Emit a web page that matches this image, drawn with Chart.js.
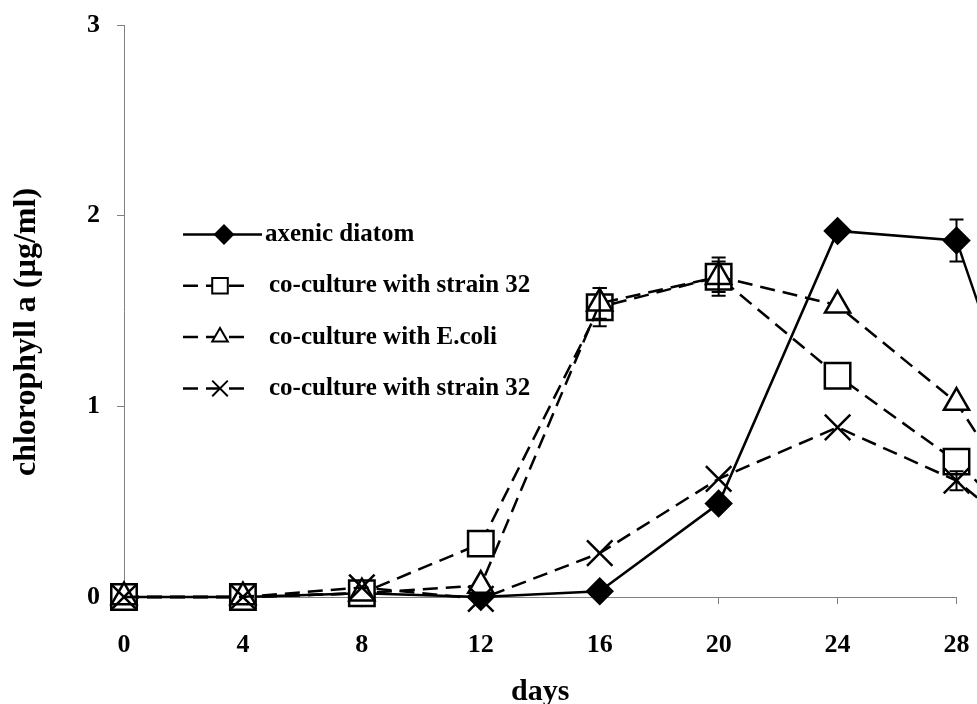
<!DOCTYPE html>
<html>
<head>
<meta charset="utf-8">
<script src="https://cdn.jsdelivr.net/npm/chart.js@4.4.0/dist/chart.umd.min.js"></script>
<style>
  html, body { margin: 0; padding: 0; background: #fff; }
  #wrap { width: 977px; height: 704px; overflow: hidden; }
</style>
</head>
<body>
<div id="wrap"><canvas id="chart" width="977" height="704"></canvas></div>
<script>
// sampling days; the last one lies past the end of the axis
const days = [0, 4, 8, 12, 16, 20, 24, 28, 32];
const xTicks = [0, 4, 8, 12, 16, 20, 24, 28];
const yTicks = [0, 1, 2, 3];

const seriesNames = ['axenic diatom', 'co-culture with strain 32', 'co-culture with E.coli', 'co-culture with strain 32'];

// chlorophyll a, µg/ml
const axenic    = [0, 0, 0.02, 0, 0.03, 0.49, 1.92, 1.87, 0.05];
const strain32  = [0, 0, 0.02, 0.28, 1.52, 1.68, 1.16, 0.71, 0.1];
const ecoli     = [0, 0, 0.02, 0.06, 1.54, 1.68, 1.53, 1.02, 0.05];
const strain32b = [0, 0, 0.05, -0.01, 0.23, 0.62, 0.89, 0.61, 0.1];

// error bars (+/-), 0 means none
const errAxenic    = [0, 0, 0, 0, 0, 0, 0, 0.11, 0];
const errStrain32  = [0, 0, 0, 0, 0.1, 0.1, 0, 0, 0];
const errEcoli     = [0, 0, 0, 0, 0.08, 0.08, 0, 0, 0];
const errStrain32b = [0, 0, 0, 0, 0, 0, 0, 0.05, 0];

const serif = '"Liberation Serif", "Times New Roman", serif';
const axisGray = '#808080';

function pts(vals) {
    return vals.map((v, i) => ({ x: days[i], y: v }));
}

function makeSet(label, vals, errs, style, radius, fill, dashed, order) {
    return {
        label: label,
        data: pts(vals),
        errors: errs,
        borderColor: '#000',
        borderWidth: 2.5,
        borderDash: dashed ? [15, 8] : [],
        pointStyle: style,
        pointRadius: radius,
        pointBackgroundColor: fill,
        pointBorderColor: '#000',
        pointBorderWidth: 2.5,
        tension: 0,
        clip: false,
        order: order
    };
}

// vertical error bars with caps
const errorBars = {
    id: 'errorBars',
    afterDatasetsDraw(chart) {
        const ctx = chart.ctx;
        const xs = chart.scales.x, ys = chart.scales.y;
        ctx.save();
        ctx.strokeStyle = '#000';
        ctx.lineWidth = 2;
        chart.data.datasets.forEach(ds => {
            ds.data.forEach((p, i) => {
                const e = ds.errors[i];
                if (!e) return;
                const px = xs.getPixelForValue(p.x);
                const top = ys.getPixelForValue(p.y + e);
                const bot = ys.getPixelForValue(p.y - e);
                ctx.beginPath();
                ctx.moveTo(px, top); ctx.lineTo(px, bot);
                ctx.moveTo(px - 7, top); ctx.lineTo(px + 7, top);
                ctx.moveTo(px - 7, bot); ctx.lineTo(px + 7, bot);
                ctx.stroke();
            });
        });
        ctx.restore();
    }
};

// legend box inside the plot: sample line + marker + name
const lineLegend = {
    id: 'lineLegend',
    afterDraw(chart) {
        const ctx = chart.ctx;
        const area = chart.chartArea;
        const x0 = area.left + 59, x1 = area.left + 128, xm = area.left + 96;
        ctx.save();
        chart.data.datasets.forEach((ds, i) => {
            const y = area.top + 209.5 + i * 51.3;
            ctx.strokeStyle = '#000';
            ctx.lineWidth = 2.5;
            ctx.setLineDash(ds.borderDash);
            ctx.beginPath();
            ctx.moveTo(x0, y);
            ctx.lineTo(ds.borderDash.length ? x1 : x1 + 10, y);
            ctx.stroke();
            ctx.setLineDash([]);
            ctx.fillStyle = ds.pointBackgroundColor;
            ctx.lineWidth = 2;
            Chart.helpers.drawPoint(ctx, {
                pointStyle: ds.pointStyle,
                radius: ds.pointStyle === 'rectRot' ? 9 : (ds.pointStyle === 'triangle' ? 9 : 11),
                rotation: 0,
                borderWidth: 2
            }, xm + (ds.borderDash.length ? 0 : 4), y);
            ctx.fillStyle = '#000';
            ctx.font = 'bold 25px ' + serif;
            ctx.textBaseline = 'middle';
            ctx.textAlign = 'left';
            ctx.fillText(ds.label, area.left + (ds.borderDash.length ? 145 : 141), y);
        });
        ctx.restore();
    }
};

// rotated y title, set a little below the middle of the axis
const yTitle = {
    id: 'yTitle',
    afterDraw(chart) {
        const ctx = chart.ctx;
        ctx.save();
        ctx.translate(27, 332);
        ctx.rotate(-Math.PI / 2);
        ctx.fillStyle = '#000';
        ctx.font = 'bold 32px ' + serif;
        ctx.textAlign = 'center';
        ctx.textBaseline = 'middle';
        ctx.fillText('chlorophyll a (µg/ml)', 0, 0);
        ctx.restore();
    }
};

const ctx = document.getElementById('chart').getContext('2d');
window.myChart = new Chart(ctx, {
    type: 'line',
    data: {
        datasets: [
            makeSet(seriesNames[0], axenic, errAxenic, 'rectRot', 12.5, '#000', false, 4),
            makeSet(seriesNames[1], strain32, errStrain32, 'rect', 18, '#fff', true, 3),
            makeSet(seriesNames[2], ecoli, errEcoli, 'triangle', 14.5, '#fff', true, 2),
            makeSet(seriesNames[3], strain32b, errStrain32b, 'crossRot', 18, '#fff', true, 1)
        ]
    },
    options: {
        responsive: false,
        animation: false,
        devicePixelRatio: 1,
        layout: { padding: { top: 25, right: 19, left: 0, bottom: 0 } },
        plugins: {
            legend: { display: false },
            tooltip: { enabled: false }
        },
        scales: {
            x: {
                type: 'linear',
                bounds: 'data',
                // range set here (not via min/max) so the day-32 point is still drawn past the axis end
                afterDataLimits: s => { s.min = 0; s.max = 28; },
                afterBuildTicks: s => { s.ticks = xTicks.map(v => ({ value: v })); },
                afterFit: s => { s.height = 107; s.paddingLeft = 0; s.paddingRight = 0; },
                grid: { display: true, drawOnChartArea: false, drawTicks: true, tickLength: 7, color: axisGray, lineWidth: 1 },
                border: { display: true, color: axisGray, width: 1 },
                ticks: { color: '#000', padding: 26, stepSize: 4, font: { family: serif, size: 26, weight: 'bold' } },
                title: { display: true, text: 'days', color: '#000', padding: { top: 0, bottom: 1 }, font: { family: serif, size: 30, weight: 'bold', lineHeight: 0.75 } }
            },
            y: {
                type: 'linear',
                min: 0,
                max: 3,
                afterBuildTicks: s => { s.ticks = yTicks.map(v => ({ value: v })); },
                afterFit: s => { s.width = 124; s.paddingTop = 0; s.paddingBottom = 0; },
                grid: { display: true, drawOnChartArea: false, drawTicks: true, tickLength: 7, color: axisGray, lineWidth: 1 },
                border: { display: true, color: axisGray, width: 1 },
                ticks: { color: '#000', padding: 17, font: { family: serif, size: 26, weight: 'bold' } }
            }
        }
    },
    plugins: [errorBars, lineLegend, yTitle]
});
</script>
</body>
</html>
